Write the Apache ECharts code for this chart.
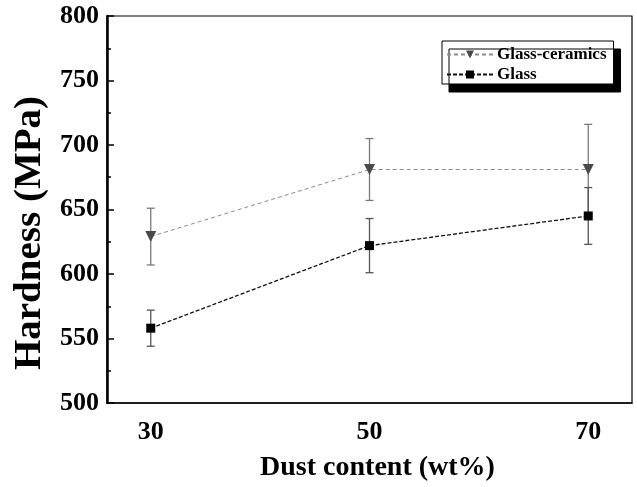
<!DOCTYPE html>
<html><head><meta charset="utf-8">
<script src="https://cdn.jsdelivr.net/npm/echarts@6/dist/echarts.min.js"></script>
<style>html,body{margin:0;padding:0;background:#fff}#c{width:637px;height:487px}</style>
</head><body><div id="c"></div>
<script>
const dustContent = [30, 50, 70];
const glassCeramics = [629, 681, 681];
const glassCeramicsErr = [22, 24, 35];
const glass = [558, 622, 645];
const glassErr = [14, 21, 22];
const xTickLabels = [30, 50, 70];

const F = '"Liberation Serif","Times New Roman",serif';
function pairs(xs, ys){ return xs.map((x,i)=>[x, ys[i]]); }
function errData(xs, ys, es){ return xs.map((x,i)=>[x, ys[i]-es[i], ys[i]+es[i]]); }
function errSeries(data, color){
  return {
    type:'custom', silent:true, z:1, data:data,
    encode:{x:0,y:[1,2]},
    renderItem:function(params, api){
      const x = api.value(0);
      const lo = api.coord([x, api.value(1)]);
      const hi = api.coord([x, api.value(2)]);
      const w = 4;
      const st = {stroke:color, lineWidth:1.3};
      return {type:'group', children:[
        {type:'line', shape:{x1:lo[0],y1:lo[1],x2:hi[0],y2:hi[1]}, style:st},
        {type:'line', shape:{x1:lo[0]-w,y1:lo[1],x2:lo[0]+w,y2:lo[1]}, style:st},
        {type:'line', shape:{x1:hi[0]-w,y1:hi[1],x2:hi[0]+w,y2:hi[1]}, style:st}
      ]};
    }
  };
}
const chart = echarts.init(document.getElementById('c'), null, {renderer:'canvas'});
chart.setOption({
  animation:false,
  backgroundColor:'#fff',
  grid:{left:107, top:16, right:5, bottom:84, show:true, borderColor:'#000', borderWidth:1.2, backgroundColor:'transparent'},
  graphic:[{
    type:'text', x:30, y:233, rotation:Math.PI/2, scaleX:1, scaleY:0.95,
    style:{text:'Hardness (MPa)', fontFamily:F, fontWeight:'bold', fontSize:39, fill:'#000',
      align:'center', verticalAlign:'middle'}
  }],
  legend:{
    left:442, top:41, orient:'vertical', itemGap:3, itemWidth:46, itemHeight:10,
    padding:[5,7,1,4],
    backgroundColor:'#fff', borderColor:'#000', borderWidth:1,
    shadowColor:'#000', shadowBlur:0, shadowOffsetX:7, shadowOffsetY:8,
    textStyle:{fontFamily:F, fontWeight:'bold', fontSize:17, color:'#000', padding:[0,0,0,-1]},
    data:['Glass-ceramics','Glass']
  },
  xAxis:{
    type:'value', min:26, max:74, interval:2,
    name:'Dust content (wt%)', nameLocation:'middle', nameGap:51,
    nameTextStyle:{fontFamily:F, fontWeight:'bold', fontSize:28, color:'#000', padding:[0,0,0,16]},
    axisLine:{show:true, lineStyle:{color:'#000', width:1.5}},
    axisTick:{show:false}, splitLine:{show:false},
    axisLabel:{margin:16, fontFamily:F, fontWeight:'bold', fontSize:26, color:'#000',
      formatter:function(v){ return xTickLabels.indexOf(v) >= 0 ? String(v) : ''; }}
  },
  yAxis:{
    type:'value', min:500, max:800, interval:50,
    axisLine:{show:true, lineStyle:{color:'#000', width:2.5}},
    axisTick:{show:true, inside:true, length:7, lineStyle:{color:'#000', width:1.5}},
    minorTick:{show:true, splitNumber:2, length:4, lineStyle:{color:'#000', width:1.5}},
    splitLine:{show:false},
    axisLabel:{margin:8, fontFamily:F, fontWeight:'bold', fontSize:26, color:'#000'}
  },
  series:[
    errSeries(errData(dustContent, glassCeramics, glassCeramicsErr), '#7a7a7a'),
    errSeries(errData(dustContent, glass, glassErr), '#555'),
    {name:'Glass-ceramics', type:'line', z:3, data:pairs(dustContent, glassCeramics),
      symbol:'triangle', symbolRotate:180, symbolSize:11,
      lineStyle:{color:'#8c8c8c', width:1, type:[4,3]},
      itemStyle:{color:'#4a4a4a'}},
    {name:'Glass', type:'line', z:3, data:pairs(dustContent, glass),
      symbol:'rect', symbolSize:9,
      lineStyle:{color:'#111', width:1.3, type:[4,2]},
      itemStyle:{color:'#000'}}
  ]
});
</script></body></html>
